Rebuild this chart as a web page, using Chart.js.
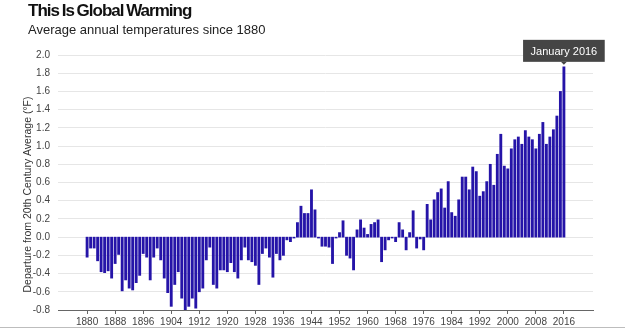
<!DOCTYPE html>
<html>
<head>
<meta charset="utf-8">
<script src="https://cdn.jsdelivr.net/npm/chart.js@4"></script>
<style>
  html, body { margin: 0; padding: 0; background: #fff; }
  #wrap { position: relative; width: 625px; height: 329px; overflow: hidden; }
  #title { position: absolute; left: 28px; top: 1px; font: bold 17px "Liberation Sans", Arial, sans-serif; letter-spacing: -1px; word-spacing: -1px; color: #111; }
  #sub { position: absolute; left: 28px; top: 22px; font: 13px "Liberation Sans", Arial, sans-serif; color: #222; }
  #rule { position: absolute; left: 0; width: 625px; top: 327px; height: 1px; background: #bdbdbd; }
  canvas { position: absolute; left: 0; top: 0; }
</style>
</head>
<body>
<div id="wrap">
  <canvas id="chart" width="625" height="329"></canvas>
  <div id="title">This Is Global Warming</div>
  <div id="sub">Average annual temperatures since 1880</div>
  <div id="rule"></div>
</div>
<script>
// annual departure from 20th century average, deg F, 1880..2016
const temps1880s = [-0.22, -0.12, -0.12, -0.26, -0.38, -0.39, -0.37, -0.45, -0.29, -0.19];
const temps1890s = [-0.59, -0.47, -0.56, -0.58, -0.50, -0.42, -0.18, -0.22, -0.47, -0.22];
const temps1900s = [-0.12, -0.25, -0.45, -0.61, -0.76, -0.52, -0.38, -0.67, -0.80, -0.76];
const temps1910s = [-0.67, -0.78, -0.60, -0.56, -0.25, -0.11, -0.52, -0.56, -0.36, -0.36];
const temps1920s = [-0.38, -0.28, -0.38, -0.45, -0.25, -0.11, -0.25, -0.27, -0.31, -0.52];
const temps1930s = [-0.18, -0.12, -0.22, -0.44, -0.18, -0.25, -0.20, -0.03, -0.05, -0.01];
const temps1940s = [0.16, 0.34, 0.26, 0.26, 0.52, 0.30, -0.01, -0.10, -0.10, -0.11];
const temps1950s = [-0.29, -0.01, 0.05, 0.18, -0.20, -0.23, -0.36, 0.08, 0.19, 0.10];
const temps1960s = [0.03, 0.14, 0.16, 0.19, -0.27, -0.14, -0.03, -0.01, -0.05, 0.16];
const temps1970s = [0.08, -0.14, 0.05, 0.29, -0.12, -0.02, -0.14, 0.36, 0.19, 0.41];
const temps1980s = [0.49, 0.53, 0.32, 0.61, 0.27, 0.23, 0.41, 0.66, 0.66, 0.52];
const temps1990s = [0.77, 0.72, 0.45, 0.50, 0.61, 0.80, 0.57, 0.91, 1.13, 0.78];
const temps2000s = [0.75, 0.97, 1.07, 1.10, 1.02, 1.17, 1.10, 1.07, 0.97, 1.13];
const temps2010s = [1.26, 1.02, 1.10, 1.18, 1.33, 1.60, 1.87];

const temps = [].concat(temps1880s, temps1890s, temps1900s, temps1910s, temps1920s,
    temps1930s, temps1940s, temps1950s, temps1960s, temps1970s, temps1980s,
    temps1990s, temps2000s, temps2010s);
const years = temps.map((_, i) => 1880 + i);

const xTicks = [1880, 1888, 1896, 1904, 1912, 1920, 1928, 1936, 1944, 1952, 1960, 1968, 1976, 1984, 1992, 2000, 2008, 2016];
const calloutLabel = 'January 2016';
const yTitle = 'Departure from 20th Century Average (\u00b0F)';

const tickFont = { family: '"Liberation Sans", Arial, sans-serif', size: 10 };

// dark label box over the last bar
const callout = {
    id: 'callout',
    afterDatasetsDraw(chart) {
        const meta = chart.getDatasetMeta(0);
        const bar = meta.data[meta.data.length - 1];
        const ctx = chart.ctx;
        ctx.save();
        ctx.font = '11px "Liberation Sans", Arial, sans-serif';
        const w = ctx.measureText(calloutLabel).width + 15;
        const h = 22;
        const bottom = bar.y - 5;
        ctx.fillStyle = '#454545';
        ctx.fillRect(bar.x - w / 2, bottom - h, w, h);
        ctx.beginPath();
        ctx.moveTo(bar.x - 3, bottom);
        ctx.lineTo(bar.x + 3, bottom);
        ctx.lineTo(bar.x, bottom + 3);
        ctx.closePath();
        ctx.fill();
        ctx.fillStyle = '#fff';
        ctx.textAlign = 'center';
        ctx.textBaseline = 'middle';
        ctx.fillText(calloutLabel, bar.x, bottom - h / 2 + 1);
        ctx.restore();
    }
};

// y axis title, sits a bit lower than the plot centre like the original
const yTitlePlugin = {
    id: 'yTitle',
    afterDraw(chart) {
        const ctx = chart.ctx;
        const area = chart.chartArea;
        ctx.save();
        ctx.translate(28, (area.top + area.bottom) / 2 + 12);
        ctx.rotate(-Math.PI / 2);
        ctx.font = '10.5px "Liberation Sans", Arial, sans-serif';
        ctx.fillStyle = '#333';
        ctx.textAlign = 'center';
        ctx.textBaseline = 'middle';
        ctx.fillText(yTitle, 0, 0);
        ctx.restore();
    }
};

const data = {
    datasets: [{
        data: years.map((y, i) => ({ x: y, y: temps[i] })),
        backgroundColor: '#2514a8',
        borderWidth: 0,
        barThickness: 2.2
    }]
};

const config = {
    type: 'bar',
    data: data,
    options: {
        responsive: false,
        animation: false,
        devicePixelRatio: 1,
        layout: { padding: { top: 55, left: 21, right: 32, bottom: 0 } },
        plugins: {
            legend: { display: false },
            tooltip: { enabled: false }
        },
        scales: {
            x: {
                type: 'linear',
                offset: false,
                min: 1871.7,
                max: 2024.3,
                afterBuildTicks: axis => { axis.ticks = xTicks.map(v => ({ value: v })); },
                afterFit: s => { s.height = 19; },
                ticks: {
                    autoSkip: false,
                    maxRotation: 0,
                    padding: 2,
                    color: '#444',
                    font: tickFont,
                    callback: v => String(v)
                },
                grid: { offset: false, drawOnChartArea: false, drawTicks: true, tickLength: 4, color: '#666' },
                border: { color: '#666' }
            },
            y: {
                min: -0.8,
                max: 2.0,
                afterFit: s => { s.width = 37; },
                ticks: {
                    stepSize: 0.2,
                    padding: 8,
                    color: '#444',
                    font: tickFont,
                    callback: v => (Math.abs(v) < 1e-9 ? '0.0' : v.toFixed(1))
                },
                grid: { color: '#e6e6e6', drawTicks: false },
                border: { display: false }
            }
        }
    },
    plugins: [callout, yTitlePlugin]
};

new Chart(document.getElementById('chart'), config);
</script>
</body>
</html>
